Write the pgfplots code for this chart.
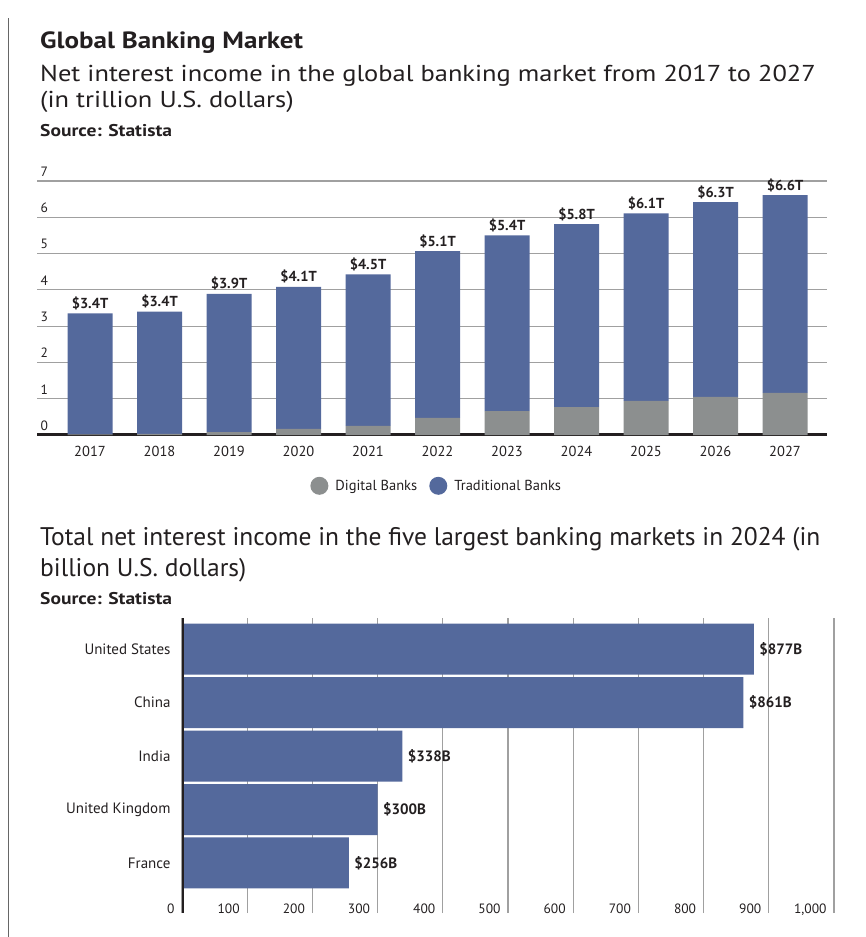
\documentclass[border=0pt]{standalone}
\usepackage{pgfplots}
\pgfplotsset{compat=1.18}
\usepackage{pgfplotstable}
\usepackage{fontspec}
\setmainfont{PT Sans}
\newfontfamily\widefont[FakeStretch=1.15]{PT Sans}

\definecolor{tradblue}{HTML}{54699C}
\definecolor{diggray}{HTML}{8C8F8F}
\definecolor{txt}{HTML}{231F20}
\definecolor{gridgray}{HTML}{A0A0A0}

% trillion USD, digital + traditional = tot
\pgfplotstableread{
year dig  trad tot  lab
2017 0.02 3.33 3.35 3.4
2018 0.03 3.37 3.40 3.4
2019 0.08 3.81 3.89 3.9
2020 0.17 3.91 4.08 4.1
2021 0.25 4.18 4.43 4.5
2022 0.47 4.60 5.07 5.1
2023 0.66 4.84 5.50 5.4
2024 0.77 5.04 5.81 5.8
2025 0.94 5.17 6.11 6.1
2026 1.05 5.37 6.42 6.3
2027 1.16 5.45 6.61 6.6
}\globaldata

% billion USD, 2024
\pgfplotstableread{
pos val
0 256
1 300
2 338
3 861
4 877
}\marketdata

\begin{document}
\begin{tikzpicture}[x=1pt,y=1pt]
\path[use as bounding box] (0,0) rectangle (865,-937);
\draw[gray!80!black, line width=1pt] (8,-18) -- (8,-937);

\begin{scope}[txt]
\node[anchor=base west, inner sep=0pt, font=\widefont\fontsize{23.5}{26}\selectfont\bfseries] at (40,-48) {Global Banking Market};
\node[anchor=base west, inner sep=0pt, font=\widefont\fontsize{23}{26}\selectfont] at (40,-81) {Net interest income in the global banking market from 2017 to 2027};
\node[anchor=base west, inner sep=0pt, font=\widefont\fontsize{23}{26}\selectfont] at (40,-107) {(in trillion U.S. dollars)};
\node[anchor=base west, inner sep=0pt, font=\widefont\fontsize{17}{19}\selectfont\bfseries] at (40,-136) {Source: Statista};

\node[anchor=base west, inner sep=0pt, font=\fontsize{25.5}{28}\selectfont] at (40,-545) {Total net interest income in the five largest banking markets in 2024 (in};
\node[anchor=base west, inner sep=0pt, font=\fontsize{25.5}{28}\selectfont] at (40,-576) {billion U.S. dollars)};
\node[anchor=base west, inner sep=0pt, font=\widefont\fontsize{17}{19}\selectfont\bfseries] at (40,-604) {Source: Statista};
\end{scope}

\begin{axis}[
    at={(37pt,-435pt)}, anchor=south west,
    scale only axis, width=790pt, height=254pt,
    xmin=-0.763, xmax=10.604, ymin=0, ymax=7,
    ybar stacked, bar width=45pt,
    xtick=data, xticklabels from table={\globaldata}{year},
    ytick={0,...,7},
    ymajorgrids, grid style={gridgray, line width=1.2pt},
    axis line style={draw=none}, major tick length=0pt,
    tick label style={font=\fontsize{14.5}{16}\selectfont, text=txt},
    /pgf/number format/assume math mode=true,
    yticklabel style={anchor=south west, yshift=1pt, font=\fontsize{13.5}{15}\selectfont},
    xticklabel style={yshift=-8pt},
    legend style={at={(0.506,-0.2)}, anchor=center, draw=none, fill=none,
        legend columns=2, font=\fontsize{14.5}{16}\selectfont, text=txt,
        /tikz/every even column/.append style={column sep=10pt}},
]
\addplot[fill=diggray, draw=none,
    legend image code/.code={\fill[diggray] (4pt,0pt) circle (9pt);}]
    table[x expr=\coordindex, y=dig] {\globaldata};
\addlegendentry{\hspace{5pt}Digital Banks}
\addplot[fill=tradblue, draw=none,
    legend image code/.code={\fill[tradblue] (4pt,0pt) circle (9pt);}]
    table[x expr=\coordindex, y=trad] {\globaldata};
\addlegendentry{\hspace{5pt}Traditional Banks}
\draw[txt, line width=3.5pt] (rel axis cs:0,0) -- (rel axis cs:1,0);
\end{axis}

% totals above the stacked bars
\begin{axis}[
    at={(37pt,-435pt)}, anchor=south west,
    scale only axis, width=790pt, height=254pt,
    xmin=-0.763, xmax=10.604, ymin=0, ymax=7,
    hide axis,
]
\addplot[draw=none, mark=none,
    point meta=explicit symbolic,
    nodes near coords={\$\pgfplotspointmeta T},
    nodes near coords style={font=\fontsize{14.5}{16}\selectfont\bfseries, text=txt, anchor=south, yshift=0pt}]
    table[x expr=\coordindex, y=tot, meta=lab] {\globaldata};
\end{axis}

\begin{axis}[
    at={(182pt,-913pt)}, anchor=south west,
    scale only axis, width=652pt, height=295pt,
    xmin=0, xmax=1000, ymin=-0.935, ymax=4.58,
    xbar, bar width=51pt,
    xtick={0,100,...,1000},
    ytick={0,1,2,3,4},
    yticklabels={France, United Kingdom, India, China, United States},
    xmajorgrids, grid style={gridgray, line width=1.2pt},
    axis line style={draw=none}, major tick length=0pt,
    tick label style={font=\fontsize{13.5}{15}\selectfont, text=txt},
    yticklabel style={font=\fontsize{15}{17}\selectfont, xshift=-8pt},
    /pgf/number format/assume math mode=true,
    /pgf/number format/1000 sep={,},
    xticklabel style={anchor=base east, xshift=-4pt, yshift=0pt},
]
\addplot[fill=tradblue, draw=none,
    nodes near coords={\$\pgfmathprintnumber{\pgfplotspointmeta}B},
    nodes near coords style={font=\fontsize{15}{17}\selectfont\bfseries, text=txt, anchor=west, xshift=2pt}]
    table[x=val, y=pos] {\marketdata};
\draw[txt, line width=3.5pt] (rel axis cs:0,0) -- (rel axis cs:0,1);
\end{axis}
\end{tikzpicture}
\end{document}
